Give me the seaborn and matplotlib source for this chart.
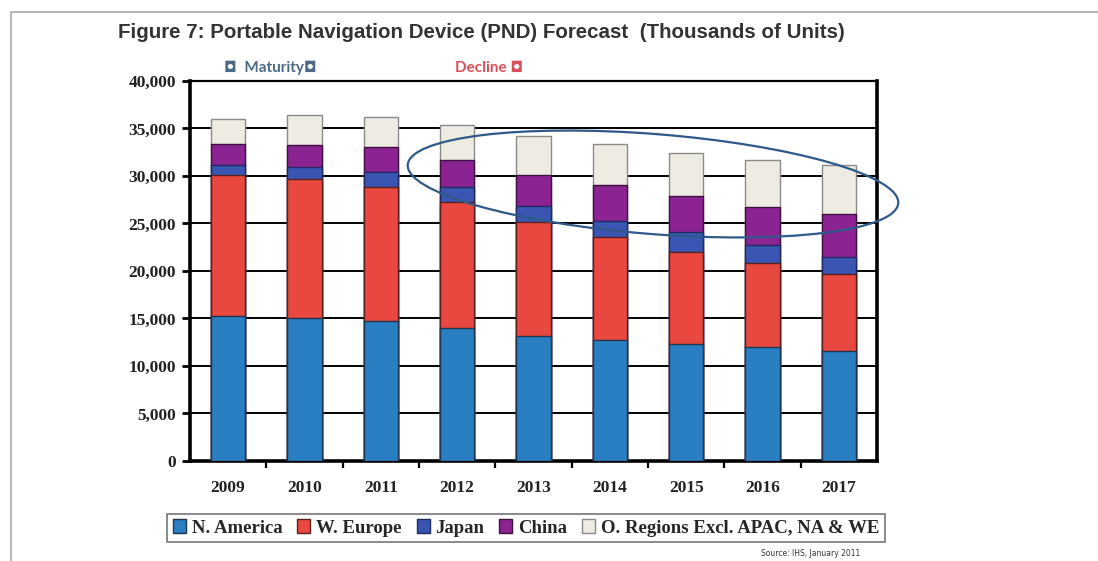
import numpy as np
import pandas as pd
import seaborn as sns
import matplotlib.pyplot as plt
from matplotlib.patches import Patch, Ellipse
from matplotlib.lines import Line2D
from matplotlib.transforms import IdentityTransform
from matplotlib.ticker import FuncFormatter, MultipleLocator

years = ['2009', '2010', '2011', '2012', '2013', '2014', '2015', '2016', '2017']
n_america = [15250, 15100, 14750, 14000, 13200, 12750, 12300, 12000, 11600]
w_europe = [14880, 14600, 14100, 13300, 12000, 10850, 9700, 8800, 8050]
japan = [1050, 1200, 1550, 1500, 1650, 1700, 2050, 1900, 1850]
china = [2210, 2400, 2700, 2900, 3250, 3700, 3850, 4000, 4450]
others = [2590, 3150, 3150, 3650, 4100, 4400, 4500, 5000, 5200]

labels = ['N. America', 'W. Europe', 'Japan', 'China', 'O. Regions Excl. APAC, NA & WE']
colors = ['#2a7ec2', '#e8483f', '#3a56b2', '#8c2393', '#eeece2']
edges = ['#1f3550', '#5a2020', '#1e2a60', '#3e1040', '#8a8a8a']

df = pd.DataFrame({'year': years, 'N. America': n_america, 'W. Europe': w_europe,
                   'Japan': japan, 'China': china,
                   'O. Regions Excl. APAC, NA & WE': others})

sns.set_theme(style='white')
plt.rcParams['font.family'] = ['DejaVu Sans']

fig = plt.figure(figsize=(10.98, 5.61), dpi=100)
ax = fig.add_axes([0.173, 0.1783, 0.6257, 0.6774])

# stacked bars: draw cumulative totals from the top layer down
cum = df[labels].cumsum(axis=1)
for i in range(len(labels) - 1, -1, -1):
    sns.barplot(x=df['year'], y=cum[labels[i]], color=colors[i], ax=ax,
                width=0.45, edgecolor=edges[i], linewidth=1.0, saturation=1, zorder=3)

ax.set_ylim(0, 40000)
ax.set_xlim(-0.5, 8.5)
ax.yaxis.set_major_locator(MultipleLocator(5000))
ax.yaxis.set_major_formatter(FuncFormatter(lambda v, p: f'{int(v):,}'))
ax.grid(axis='y', color='black', linewidth=1.4, zorder=0)
ax.set_axisbelow(True)
ax.set_xlabel('')
ax.set_ylabel('')

for side in ['left', 'bottom', 'right']:
    ax.spines[side].set_visible(True)
    ax.spines[side].set_color('black')
    ax.spines[side].set_linewidth(2.6)
ax.spines['top'].set_color('black')
ax.spines['top'].set_linewidth(1.6)

serif = ['Liberation Serif', 'DejaVu Serif']
ax.tick_params(axis='y', which='major', direction='out', length=6, width=2,
               color='black', left=True, pad=4)
ax.tick_params(axis='x', which='major', length=0, pad=14)
ax.set_xticks(np.arange(0.5, 8.5, 1.0), minor=True)
ax.tick_params(axis='x', which='minor', direction='out', length=5, width=1.6,
               color='black', bottom=True)
for t in ax.get_yticklabels() + ax.get_xticklabels():
    t.set_fontfamily(serif)
    t.set_fontweight('bold')
    t.set_fontsize(12.5)
    t.set_color('#222222')

# highlight ellipse around the decline phase
ell = Ellipse((653, 561 - 184), width=492, height=100, angle=-4.5, fill=False,
              edgecolor='#2d5a88', linewidth=1.6, transform=IdentityTransform(), zorder=10)
fig.add_artist(ell)

fig.text(118 / 1098, 1 - 33 / 561, 'Figure 7: Portable Navigation Device (PND) Forecast  (Thousands of Units)',
         fontsize=14.8, fontweight='bold', color='#333333', family=['Liberation Sans', 'DejaVu Sans'],
         va='center', ha='left')
fig.text(224 / 1098, 1 - 68 / 561, '\u25d8  Maturity\u25d8', fontsize=11, fontweight='bold',
         color='#4a6a88', family=['Lato', 'DejaVu Sans'], va='center', ha='left')
fig.text(455 / 1098, 1 - 68 / 561, 'Decline \u25d8', fontsize=11, fontweight='bold',
         color='#d9505a', family=['Lato', 'DejaVu Sans'], va='center', ha='left')
fig.text(860 / 1098, 1 - 553 / 561, 'Source: IHS, January 2011', fontsize=5.5,
         color='#333333', ha='right', va='center')

handles = [Patch(facecolor=colors[i], edgecolor=edges[i], linewidth=1.0, label=labels[i])
           for i in range(len(labels))]
leg = fig.legend(handles=handles, loc='center', bbox_to_anchor=(526 / 1098, 1 - 528 / 561),
                 ncol=5, frameon=True, fancybox=False, edgecolor='#555555',
                 prop={'family': serif, 'size': 13.5, 'weight': 'bold'},
                 handlelength=0.7, handleheight=0.7,
                 handletextpad=0.3, columnspacing=0.8, borderpad=0.3)
leg.get_frame().set_linewidth(1.2)

# outer page frame
fig.add_artist(Line2D([11 / 1098, 11 / 1098], [0, 1 - 12 / 561], color='#aaaaaa', linewidth=1.2))
fig.add_artist(Line2D([11 / 1098, 1], [1 - 12 / 561, 1 - 12 / 561], color='#aaaaaa', linewidth=1.2))

fig.savefig('out.png', dpi=100)
